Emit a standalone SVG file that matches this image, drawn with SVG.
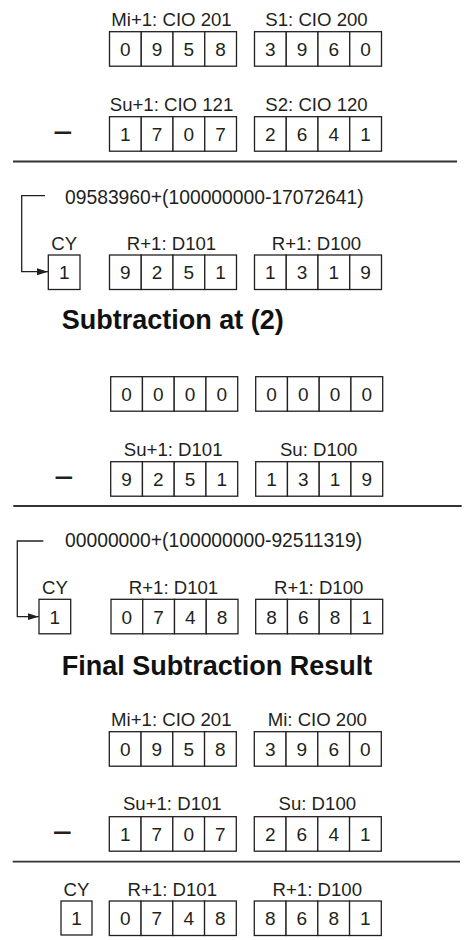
<svg xmlns="http://www.w3.org/2000/svg" width="465" height="940" viewBox="0 0 465 940">
<defs>
<style>
.c{fill:#fff;stroke:#231f20;stroke-width:1.3}
.d{font-family:"Liberation Sans",Arial,sans-serif;font-size:19px;fill:#231f20;text-anchor:middle}
.l{font-family:"Liberation Sans",Arial,sans-serif;font-size:18.6px;fill:#231f20;text-anchor:middle}
.f{font-family:"Liberation Sans",Arial,sans-serif;font-size:19.3px;fill:#231f20}
.h{font-family:"Liberation Sans",Arial,sans-serif;font-size:27px;font-weight:bold;fill:#111}
.m{font-family:"Liberation Sans",Arial,sans-serif;font-size:34px;fill:#231f20;text-anchor:middle}
.r{stroke:#333;stroke-width:1.8;fill:none}
.k{stroke:#231f20;stroke-width:1.3;fill:none}
</style>
<marker id="ah" markerUnits="userSpaceOnUse" markerWidth="12" markerHeight="8" refX="11" refY="4" orient="auto">
<path d="M0,0.5 L11,4 L0,7.5 z" fill="#231f20"/>
</marker>
<g id="cells4">
<rect class="c" x="0" y="0" width="31.75" height="34.5"/>
<rect class="c" x="31.75" y="0" width="31.75" height="34.5"/>
<rect class="c" x="63.5" y="0" width="31.75" height="34.5"/>
<rect class="c" x="95.25" y="0" width="31.75" height="34.5"/>
</g>
</defs>

<!-- Section 1 -->
<g id="A1" transform="translate(109.5,31.7)">
<text class="l" x="62" y="-5.3">Mi+1: CIO 201</text>
<use href="#cells4"/>
<text class="d" x="15.9" y="24.3">0</text><text class="d" x="47.6" y="24.3">9</text><text class="d" x="79.4" y="24.3">5</text><text class="d" x="111.1" y="24.3">8</text>
</g>
<g id="A2" transform="translate(254.5,31.7)">
<text class="l" x="62" y="-5.3">S1: CIO 200</text>
<use href="#cells4"/>
<text class="d" x="15.9" y="24.3">3</text><text class="d" x="47.6" y="24.3">9</text><text class="d" x="79.4" y="24.3">6</text><text class="d" x="111.1" y="24.3">0</text>
</g>
<text class="m" x="63" y="144.2">−</text>
<g id="B1" transform="translate(109.5,116.7)">
<text class="l" x="62" y="-5.5">Su+1: CIO 121</text>
<use href="#cells4"/>
<text class="d" x="15.9" y="24.3">1</text><text class="d" x="47.6" y="24.3">7</text><text class="d" x="79.4" y="24.3">0</text><text class="d" x="111.1" y="24.3">7</text>
</g>
<g id="B2" transform="translate(254.5,116.7)">
<text class="l" x="62" y="-5.5">S2: CIO 120</text>
<use href="#cells4"/>
<text class="d" x="15.9" y="24.3">2</text><text class="d" x="47.6" y="24.3">6</text><text class="d" x="79.4" y="24.3">4</text><text class="d" x="111.1" y="24.3">1</text>
</g>
<line class="r" x1="13" y1="161.5" x2="457" y2="161.5"/>

<text class="f" x="65" y="204.3">09583960+(100000000-17072641)</text>
<g id="CY1" transform="translate(48.3,255)">
<text class="l" x="15.9" y="-5">CY</text>
<rect class="c" x="0" y="0" width="31.7" height="34.5"/>
<text class="d" x="15.9" y="24.3">1</text>
</g>
<g id="C1" transform="translate(109.5,255)">
<text class="l" x="62" y="-5">R+1: D101</text>
<use href="#cells4"/>
<text class="d" x="15.9" y="24.3">9</text><text class="d" x="47.6" y="24.3">2</text><text class="d" x="79.4" y="24.3">5</text><text class="d" x="111.1" y="24.3">1</text>
</g>
<g id="C2" transform="translate(254.5,255)">
<text class="l" x="62" y="-5">R+1: D100</text>
<use href="#cells4"/>
<text class="d" x="15.9" y="24.3">1</text><text class="d" x="47.6" y="24.3">3</text><text class="d" x="79.4" y="24.3">1</text><text class="d" x="111.1" y="24.3">9</text>
</g>

<text class="h" x="61.7" y="329">Subtraction at (2)</text>

<!-- Section 2 -->
<g id="D1" transform="translate(110.7,376.7)">
<use href="#cells4"/>
<text class="d" x="15.9" y="24.3">0</text><text class="d" x="47.6" y="24.3">0</text><text class="d" x="79.4" y="24.3">0</text><text class="d" x="111.1" y="24.3">0</text>
</g>
<g id="D2" transform="translate(255.7,376.7)">
<use href="#cells4"/>
<text class="d" x="15.9" y="24.3">0</text><text class="d" x="47.6" y="24.3">0</text><text class="d" x="79.4" y="24.3">0</text><text class="d" x="111.1" y="24.3">0</text>
</g>
<text class="m" x="64" y="488.7">−</text>
<g id="E1" transform="translate(110.7,461.7)">
<text class="l" x="62.5" y="-5.7">Su+1: D101</text>
<use href="#cells4"/>
<text class="d" x="15.9" y="24.3">9</text><text class="d" x="47.6" y="24.3">2</text><text class="d" x="79.4" y="24.3">5</text><text class="d" x="111.1" y="24.3">1</text>
</g>
<g id="E2" transform="translate(255.7,461.7)">
<text class="l" x="63" y="-5.7">Su: D100</text>
<use href="#cells4"/>
<text class="d" x="15.9" y="24.3">1</text><text class="d" x="47.6" y="24.3">3</text><text class="d" x="79.4" y="24.3">1</text><text class="d" x="111.1" y="24.3">9</text>
</g>
<line class="r" x1="13.3" y1="506" x2="461.7" y2="506"/>

<text class="f" x="65" y="546.7">00000000+(100000000-92511319)</text>
<g id="CY2" transform="translate(39,599.3)">
<text class="l" x="15.9" y="-5">CY</text>
<rect class="c" x="0" y="0" width="31.7" height="34.5"/>
<text class="d" x="15.9" y="24.3">1</text>
</g>
<g id="F1" transform="translate(111,599.3)">
<text class="l" x="62.5" y="-5">R+1: D101</text>
<use href="#cells4"/>
<text class="d" x="15.9" y="24.3">0</text><text class="d" x="47.6" y="24.3">7</text><text class="d" x="79.4" y="24.3">4</text><text class="d" x="111.1" y="24.3">8</text>
</g>
<g id="F2" transform="translate(255.7,599.3)">
<text class="l" x="63" y="-5">R+1: D100</text>
<use href="#cells4"/>
<text class="d" x="15.9" y="24.3">8</text><text class="d" x="47.6" y="24.3">6</text><text class="d" x="79.4" y="24.3">8</text><text class="d" x="111.1" y="24.3">1</text>
</g>

<text class="h" x="61.7" y="675">Final Subtraction Result</text>

<!-- Section 3 -->
<g id="G1" transform="translate(109.3,731.7)">
<text class="l" x="62" y="-5.7">Mi+1: CIO 201</text>
<use href="#cells4"/>
<text class="d" x="15.9" y="24.3">0</text><text class="d" x="47.6" y="24.3">9</text><text class="d" x="79.4" y="24.3">5</text><text class="d" x="111.1" y="24.3">8</text>
</g>
<g id="G2" transform="translate(254.3,731.7)">
<text class="l" x="63" y="-5.7">Mi: CIO 200</text>
<use href="#cells4"/>
<text class="d" x="15.9" y="24.3">3</text><text class="d" x="47.6" y="24.3">9</text><text class="d" x="79.4" y="24.3">6</text><text class="d" x="111.1" y="24.3">0</text>
</g>
<text class="m" x="62.5" y="843.7">−</text>
<g id="H1" transform="translate(109.3,816.7)">
<text class="l" x="63" y="-6.5">Su+1: D101</text>
<use href="#cells4"/>
<text class="d" x="15.9" y="24.3">1</text><text class="d" x="47.6" y="24.3">7</text><text class="d" x="79.4" y="24.3">0</text><text class="d" x="111.1" y="24.3">7</text>
</g>
<g id="H2" transform="translate(254.3,816.7)">
<text class="l" x="63" y="-6.5">Su: D100</text>
<use href="#cells4"/>
<text class="d" x="15.9" y="24.3">2</text><text class="d" x="47.6" y="24.3">6</text><text class="d" x="79.4" y="24.3">4</text><text class="d" x="111.1" y="24.3">1</text>
</g>
<line class="r" x1="12.7" y1="861.7" x2="460" y2="861.7"/>
<g id="CY3" transform="translate(61,901)">
<text class="l" x="15.5" y="-5">CY</text>
<rect class="c" x="0" y="0" width="31" height="34"/>
<text class="d" x="15.5" y="24">1</text>
</g>
<g id="I1" transform="translate(109.3,901)">
<text class="l" x="63" y="-5">R+1: D101</text>
<use href="#cells4"/>
<text class="d" x="15.9" y="24">0</text><text class="d" x="47.6" y="24">7</text><text class="d" x="79.4" y="24">4</text><text class="d" x="111.1" y="24">8</text>
</g>
<g id="I2" transform="translate(254.3,901)">
<text class="l" x="63" y="-5">R+1: D100</text>
<use href="#cells4"/>
<text class="d" x="15.9" y="24">8</text><text class="d" x="47.6" y="24">6</text><text class="d" x="79.4" y="24">8</text><text class="d" x="111.1" y="24">1</text>
</g>

<g id="connectors">
<path class="k" d="M45,195.7 H21.7 V271.7 H48" marker-end="url(#ah)"/>
<path class="k" d="M43.3,541 H17.3 V616.7 H38.7" marker-end="url(#ah)"/>
</g>
</svg>
